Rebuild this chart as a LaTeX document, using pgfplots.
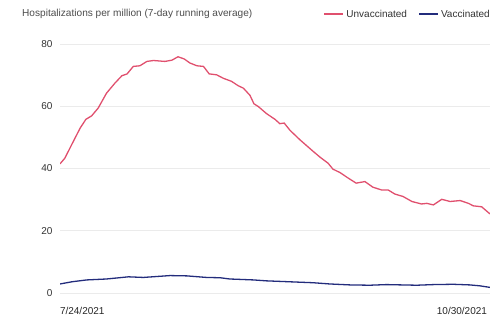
\documentclass[border=0pt]{standalone}
\usepackage{fontspec}
\setmainfont{Liberation Sans}
\usepackage{pgfplots}
\pgfplotsset{compat=1.18}
\definecolor{unvac}{HTML}{E0506E}
\definecolor{vac}{HTML}{232C7C}
\definecolor{txt}{HTML}{333333}
\begin{document}
\begin{tikzpicture}[x=1pt,y=1pt]
\path[use as bounding box] (0,0) rectangle (495,316);
\node[anchor=west, text=black!70, font=\fontsize{10.1}{12}\selectfont, inner sep=0] at (22,302) {Hospitalizations per million (7-day running average)};
\begin{axis}[
  at={(60pt,23pt)}, anchor=south west, scale only axis,
  width=430pt, height=249pt,
  xmin=0, xmax=98, ymin=0, ymax=80,
  axis line style={draw=none},
  major tick length=0pt,
  ytick={0,20,40,60,80},
  ymajorgrids, grid style={color=black!8, line width=0.8pt},
  xtick={0}, xticklabels={7/24/2021},
  xticklabel style={anchor=north west, yshift=-11pt, xshift=-3.5pt, text=black!85},
  extra x ticks={98}, extra x tick labels={10/30/2021},
  extra x tick style={xticklabel style={anchor=north east, xshift=4pt}, grid=none},
  yticklabel style={xshift=-4pt},
  ticklabel style={font=\fontsize{10}{12}\selectfont, text=txt},
  /pgf/number format/assume math mode=true,
  legend style={at={(1,1)}, anchor=south east, yshift=21pt, xshift=5pt, draw=none, fill=none,
    font=\fontsize{10}{12}\selectfont, text=txt, legend columns=2,
    /tikz/every even column/.append style={column sep=9pt}},
  legend image code/.code={\draw[#1,line width=2pt] (0pt,0pt) -- (19pt,0pt);},
]
\addplot[unvac, line width=1.3pt] coordinates {
(0,41.5) (1.1,43.3) (3.0,48.6) (4.6,53) (5.9,55.8) (7.2,56.9) (8.7,59.4) (10.6,64.2)
(12.5,67.4) (14.1,69.8) (15.3,70.4) (16.7,72.8) (18.2,73) (19.8,74.4) (21.3,74.7)
(23.9,74.4) (25.5,74.8) (26.9,75.9) (28.3,75.2) (29.6,73.9) (31.2,73) (32.7,72.8)
(34.0,70.4) (35.7,70.1) (37.2,69) (39.1,68) (40.6,66.6) (41.8,65.8) (43.3,63.5)
(44.2,60.8) (45.2,59.9) (47.1,57.6) (49.0,55.8) (50.1,54.4) (51.1,54.6) (52.4,52.3)
(54.7,49.2) (57.7,45.5) (59.3,43.6) (61.1,41.7) (62.2,39.8) (63.8,38.7) (65.7,36.9)
(67.5,35.3) (69.5,35.8) (71.3,34) (73.3,33.1) (74.8,33.1) (76.3,31.8) (78.2,31)
(80.2,29.4) (82.4,28.6) (83.6,28.8) (85.1,28.3) (87.0,30.1) (88.9,29.4) (91.2,29.7)
(93.1,28.8) (94.2,28) (96.1,27.7) (98,25.4)
};
\addlegendentry{Unvaccinated}
\addplot[vac, line width=1.3pt] coordinates {
(0,2.9) (2.7,3.6) (6.1,4.2) (10.6,4.5) (15.6,5.2) (19.0,5.0) (25.1,5.6) (28.9,5.5)
(33.4,5.0) (36.5,4.9) (38.7,4.5) (44.1,4.2) (47.1,3.9) (52.4,3.6) (57.7,3.3) (61.5,2.9)
(66.1,2.6) (70.6,2.5) (74.4,2.7) (81.3,2.5) (85.1,2.7) (89.6,2.8) (93.4,2.6) (95.7,2.3) (98,1.8)
};
\addlegendentry{Vaccinated}
\end{axis}
\end{tikzpicture}
\end{document}
